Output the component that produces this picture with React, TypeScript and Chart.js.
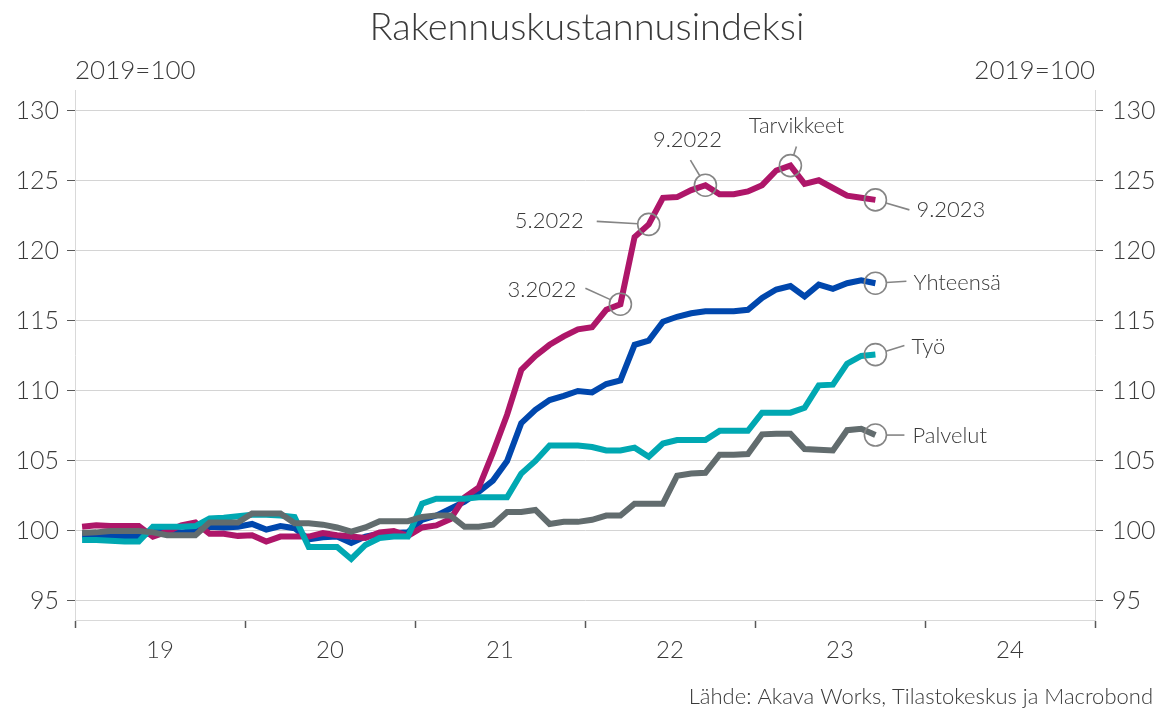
import React, { useEffect, useRef } from 'react';
import { Chart, registerables } from 'chart.js';

Chart.register(...registerables);

// ---- Data (monthly, Jan 2019 .. Sep 2023, 2019 = 100) ----
const yearLabels = ['19', '20', '21', '22', '23', '24'];
const yTickValues = [95, 100, 105, 110, 115, 120, 125, 130];

const tarvikkeet = [
  100.3, 100.4, 100.35, 100.35, 100.35, 99.6, 99.95, 100.4, 100.6, 99.8, 99.8, 99.65,
  99.7, 99.25, 99.6, 99.6, 99.6, 99.85, 99.7, 99.6, 99.5, 99.9, 100.0, 99.65,
  100.25, 100.4, 100.85, 102.4, 103.1, 105.6, 108.3, 111.5, 112.5, 113.3, 113.9, 114.4,
  114.55, 115.8, 116.2, 121.0, 121.9, 123.8, 123.85, 124.35, 124.7, 124.05, 124.05, 124.25,
  124.7, 125.75, 126.1, 124.8, 125.05, 124.5, 123.95, 123.8, 123.65,
];

const yhteensa = [
  99.7, 99.7, 99.65, 99.6, 99.6, 99.95, 99.9, 99.9, 100.0, 100.3, 100.25, 100.3,
  100.5, 100.1, 100.35, 100.2, 99.4, 99.55, 99.6, 99.15, 99.6, 99.8, 99.85, 99.9,
  100.8, 101.1, 101.6, 102.1, 102.8, 103.6, 105.0, 107.7, 108.65, 109.35, 109.65, 110.0,
  109.9, 110.5, 110.75, 113.3, 113.6, 114.95, 115.3, 115.55, 115.7, 115.7, 115.7, 115.8,
  116.65, 117.25, 117.5, 116.75, 117.6, 117.3, 117.7, 117.9, 117.7,
];

const tyo = [
  99.35, 99.35, 99.3, 99.25, 99.25, 100.3, 100.3, 100.3, 100.35, 100.9, 100.95, 101.05,
  101.15, 101.15, 101.1, 101.0, 98.85, 98.85, 98.85, 98.0, 99.0, 99.5, 99.6, 99.6,
  101.95, 102.3, 102.3, 102.3, 102.4, 102.4, 102.4, 104.1, 105.0, 106.1, 106.1, 106.1,
  106.0, 105.75, 105.75, 105.95, 105.3, 106.25, 106.5, 106.5, 106.5, 107.15, 107.15, 107.15,
  108.45, 108.45, 108.45, 108.8, 110.4, 110.45, 111.95, 112.5, 112.6,
];

const palvelut = [
  99.85, 99.9, 100.0, 100.0, 100.0, 99.9, 99.7, 99.7, 99.7, 100.6, 100.6, 100.6,
  101.25, 101.25, 101.25, 100.55, 100.55, 100.45, 100.25, 99.95, 100.25, 100.7, 100.7, 100.7,
  101.0, 101.1, 101.1, 100.3, 100.3, 100.45, 101.35, 101.35, 101.5, 100.5, 100.65, 100.65,
  100.8, 101.1, 101.1, 101.95, 101.95, 101.95, 103.95, 104.1, 104.15, 105.45, 105.45, 105.5,
  106.9, 106.95, 106.95, 105.85, 105.8, 105.75, 107.2, 107.3, 106.85,
];

const seriesNames = ['Palvelut', 'Työ', 'Tarvikkeet', 'Yhteensä'];
const seriesValues: Record<string, number[]> = {
  Palvelut: palvelut,
  'Työ': tyo,
  Tarvikkeet: tarvikkeet,
  'Yhteensä': yhteensa,
};

// Callouts: which series / month index they mark
const callouts = [
  { text: '3.2022', series: 'Tarvikkeet', month: 38 },
  { text: '5.2022', series: 'Tarvikkeet', month: 40 },
  { text: '9.2022', series: 'Tarvikkeet', month: 44 },
  { text: 'Tarvikkeet', series: 'Tarvikkeet', month: 50 },
  { text: '9.2023', series: 'Tarvikkeet', month: 56 },
  { text: 'Yhteensä', series: 'Yhteensä', month: 56 },
  { text: 'Työ', series: 'Työ', month: 56 },
  { text: 'Palvelut', series: 'Palvelut', month: 56 },
];

// ---- Styles / layout ----
const COLORS: Record<string, string> = {
  Palvelut: '#626c6e',
  'Työ': '#00a8b2',
  Tarvikkeet: '#ae1669',
  'Yhteensä': '#0047ad',
};
const TEXT = '#3a3a3a';
const FONT = 'Lato';

// text offset (tx,ty) from circle centre, alignment, leader end (lx,ly)
const calloutLayout: Record<string, { tx: number; ty: number; align: CanvasTextAlign; lx: number; ly: number }> = {
  '3.2022': { tx: -44, ty: -14, align: 'right', lx: -35, ly: -16 },
  '5.2022': { tx: -65, ty: -3, align: 'right', lx: -52, ly: -3 },
  '9.2022': { tx: -18, ty: -45, align: 'center', lx: -15, ly: -25 },
  Tarvikkeet: { tx: 6, ty: -40, align: 'center', lx: 6, ly: -19 },
  '9.2023': { tx: 41, ty: 10, align: 'left', lx: 34, ly: 10 },
  'Yhteensä': { tx: 38, ty: 0, align: 'left', lx: 31, ly: -2 },
  'Työ': { tx: 36, ty: -8, align: 'left', lx: 29, ly: -9 },
  Palvelut: { tx: 37, ty: 1, align: 'left', lx: 29, ly: 0 },
};

const textPlugin = {
  id: 'texts',
  afterDraw(chart: any) {
    const ctx = chart.ctx as CanvasRenderingContext2D;
    ctx.save();
    ctx.fillStyle = TEXT;
    ctx.textBaseline = 'alphabetic';
    ctx.font = `300 38px ${FONT}`;
    ctx.textAlign = 'center';
    ctx.fillText('Rakennuskustannusindeksi', 587, 40);
    ctx.font = `300 26px ${FONT}`;
    ctx.textAlign = 'left';
    ctx.fillText('2019=100', 75, 79);
    ctx.textAlign = 'right';
    ctx.fillText('2019=100', 1095, 79);
    ctx.font = `300 22px ${FONT}`;
    ctx.fillText('Lähde: Akava Works, Tilastokeskus ja Macrobond', 1153, 704);
    ctx.restore();
  },
};

const calloutPlugin = {
  id: 'callouts',
  afterDatasetsDraw(chart: any) {
    const ctx = chart.ctx as CanvasRenderingContext2D;
    const xs = chart.scales.x;
    const ys = chart.scales.y;
    const r = 11;
    ctx.save();
    callouts.forEach((c) => {
      const v = seriesValues[c.series][c.month];
      const cx = xs.getPixelForValue(c.month + 0.5);
      const cy = ys.getPixelForValue(v);
      const L = calloutLayout[c.text];
      ctx.strokeStyle = '#858585';
      ctx.lineWidth = 1.6;
      ctx.beginPath();
      ctx.arc(cx, cy, r, 0, Math.PI * 2);
      ctx.stroke();
      const d = Math.hypot(L.lx, L.ly);
      ctx.beginPath();
      ctx.moveTo(cx + (L.lx / d) * r, cy + (L.ly / d) * r);
      ctx.lineTo(cx + L.lx, cy + L.ly);
      ctx.stroke();
      ctx.fillStyle = TEXT;
      ctx.font = `300 22px ${FONT}`;
      ctx.textAlign = L.align;
      ctx.textBaseline = 'middle';
      ctx.fillText(c.text, cx + L.tx, cy + L.ty);
    });
    ctx.restore();
  },
};

export default function App() {
  const ref = useRef<HTMLCanvasElement>(null);
  useEffect(() => {
    if (!ref.current) return;
    const datasets = seriesNames.map((name) => ({
      label: name,
      data: seriesValues[name].map((v, i) => ({ x: i + 0.5, y: v })),
      borderColor: COLORS[name],
      backgroundColor: COLORS[name],
      borderWidth: 6,
      pointRadius: 0,
      tension: 0,
      fill: false,
      borderCapStyle: 'butt' as const,
      yAxisID: 'y',
    }));
    const tickFont = { family: FONT, size: 25, weight: 300 as any };
    const chart = new Chart(ref.current, {
      type: 'line',
      data: { datasets },
      plugins: [textPlugin, calloutPlugin],
      options: {
        animation: false,
        responsive: false,
        maintainAspectRatio: false,
        layout: { padding: { top: 90, left: 0, right: 0, bottom: 0 } },
        plugins: { legend: { display: false }, tooltip: { enabled: false }, title: { display: false } },
        scales: {
          x: {
            type: 'linear',
            min: 0,
            max: 72,
            afterBuildTicks: (scale: any) => {
              const t = [];
              for (let v = 0; v <= 72; v += 6) t.push({ value: v });
              scale.ticks = t;
            },
            afterFit: (scale: any) => {
              scale.height = 89;
            },
            ticks: {
              autoSkip: false,
              maxRotation: 0,
              minRotation: 0,
              padding: 8,
              color: TEXT,
              font: { family: FONT, size: 24, weight: 300 as any },
              callback: (value: any) => (Number(value) % 12 === 6 ? yearLabels[(Number(value) - 6) / 12] : ''),
            },
            grid: {
              drawOnChartArea: false,
              tickLength: 8,
              tickWidth: 1.5,
              tickColor: (c: any) => (c.tick && c.tick.value % 12 === 0 ? '#595959' : 'rgba(0,0,0,0)'),
            },
            border: { color: '#d9d9d9', width: 1 },
          },
          y: {
            type: 'linear',
            position: 'left',
            min: 93.64,
            max: 131.5,
            afterBuildTicks: (scale: any) => {
              scale.ticks = yTickValues.map((v) => ({ value: v }));
            },
            afterFit: (scale: any) => {
              scale.width = 75;
            },
            ticks: { color: TEXT, font: tickFont, padding: 8 },
            grid: { color: '#d4d4d4', lineWidth: 1, tickColor: '#595959', tickLength: 8 },
            border: { color: '#d9d9d9', width: 1 },
          },
          y2: {
            type: 'linear',
            position: 'right',
            min: 93.64,
            max: 131.5,
            afterBuildTicks: (scale: any) => {
              scale.ticks = yTickValues.map((v) => ({ value: v }));
            },
            afterFit: (scale: any) => {
              scale.width = 67;
            },
            ticks: { color: TEXT, font: tickFont, padding: 9 },
            grid: { drawOnChartArea: false, tickColor: '#595959', tickLength: 8 },
            border: { color: '#d9d9d9', width: 1 },
          },
        },
      },
    });
    return () => chart.destroy();
  }, []);
  return (
    <div style={{ position: 'fixed', left: 0, top: 0, width: 1162, height: 709, background: '#fff' }}>
      <canvas ref={ref} width={1162} height={709} style={{ display: 'block' }} />
    </div>
  );
}
